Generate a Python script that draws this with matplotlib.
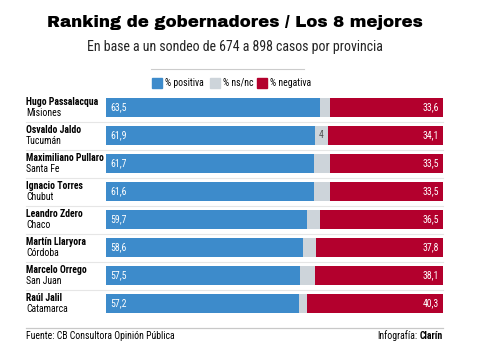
import matplotlib
matplotlib.use('Agg')
import matplotlib.pyplot as plt
import matplotlib.transforms as mtransforms

names = ['Hugo Passalacqua', 'Osvaldo Jaldo', 'Maximiliano Pullaro', 'Ignacio Torres',
         'Leandro Zdero', 'Martín Llaryora', 'Marcelo Orrego', 'Raúl Jalil']
provinces = ['Misiones', 'Tucumán', 'Santa Fe', 'Chubut',
             'Chaco', 'Córdoba', 'San Juan', 'Catamarca']
positiva = [63.5, 61.9, 61.7, 61.6, 59.7, 58.6, 57.5, 57.2]
negativa = [33.6, 34.1, 33.5, 33.5, 36.5, 37.8, 38.1, 40.3]
nsnc = [round(100 - p - n, 1) for p, n in zip(positiva, negativa)]
nsnc_label = ['', '4', '', '', '', '', '', '']

BLUE = '#3d8bcb'
GRAY = '#cdd4da'
RED = '#b3002d'
NARROW = ['Roboto Condensed', 'Liberation Sans', 'DejaVu Sans']
HEAVY = ['Archivo Black', 'DejaVu Sans']

W, H = 487, 357
fig = plt.figure(figsize=(W / 100, H / 100), dpi=100)

def fx(px):
    return px / W

def fy(py):
    return 1 - py / H

# bars axes: x 106..443 px, rows centered at 107.5 + 28*i
ax = fig.add_axes([fx(106), fy(317.5), fx(443) - fx(106), (317.5 - 93.5) / H])
n = len(names)
ypos = list(range(n))
ax.barh(ypos, positiva, height=0.68, color=BLUE)
ax.barh(ypos, nsnc, left=positiva, height=0.68, color=GRAY)
left_neg = [p + s for p, s in zip(positiva, nsnc)]
ax.barh(ypos, negativa, left=left_neg, height=0.68, color=RED)
ax.set_xlim(0, 100)
ax.set_ylim(n - 0.5, -0.5)
ax.axis('off')

for i in range(n):
    ax.text(1.2, i, f'{positiva[i]:.1f}'.replace('.', ','), color='white', va='center',
            ha='left', fontsize=7, family=NARROW)
    ax.text(98.8, i, f'{negativa[i]:.1f}'.replace('.', ','), color='white', va='center',
            ha='right', fontsize=7, family=NARROW)
    if nsnc_label[i]:
        ax.text(positiva[i] + nsnc[i] / 2, i, nsnc_label[i], color='#555555', va='center',
                ha='center', fontsize=7, family=NARROW)

# row labels and separators
trans = mtransforms.blended_transform_factory(fig.transFigure, ax.transData)
for i in range(n):
    fig.text(fx(26), i - 0.2, names[i], transform=trans, fontsize=7, fontweight='bold',
             family=NARROW, va='center', ha='left')
    fig.text(fx(26), i + 0.18, provinces[i], transform=trans, fontsize=7,
             family=NARROW, va='center', ha='left')
    if i < n - 1:
        fig.add_artist(plt.Line2D([fx(26), fx(443)], [i + 0.5, i + 0.5], transform=trans,
                                  color='#e6e6e6', lw=0.8))

# title and subtitle
fig.text(fx(235), fy(23), 'Ranking de gobernadores / Los 8 mejores', ha='center', va='center',
         fontsize=12, family=HEAVY)
fig.text(fx(235), fy(47), 'En base a un sondeo de 674 a 898 casos por provincia', ha='center',
         va='center', fontsize=10, family=NARROW, color='#222222')
fig.add_artist(plt.Line2D([fx(151), fx(304)], [fy(69), fy(69)], color='#cccccc', lw=0.8))

# legend
legend_items = [('% positiva', BLUE, 152), ('% ns/nc', GRAY, 210), ('% negativa', RED, 257)]
for label, col, x0 in legend_items:
    fig.add_artist(plt.Rectangle((fx(x0), fy(88)), 10 / W, 10 / H, color=col))
    fig.text(fx(x0 + 13), fy(83), label, ha='left', va='center', fontsize=7, family=NARROW)

# footer
fig.add_artist(plt.Line2D([fx(26), fx(443)], [fy(328), fy(328)], color='#c8c8c8', lw=0.9))
fig.text(fx(26), fy(336), 'Fuente: CB Consultora Opinión Pública', ha='left', va='center',
         fontsize=7, family=NARROW)
clarin = fig.text(fx(443), fy(336), 'Clarín', ha='right', va='center', fontsize=7,
                  fontweight='bold', family=NARROW)
fig.canvas.draw()
bb = clarin.get_window_extent()
fig.text(bb.x0 / W - 2 / W, fy(336), 'Infografía:', ha='right', va='center', fontsize=7,
         family=NARROW)

fig.savefig('out.png', dpi=100, facecolor='white')
